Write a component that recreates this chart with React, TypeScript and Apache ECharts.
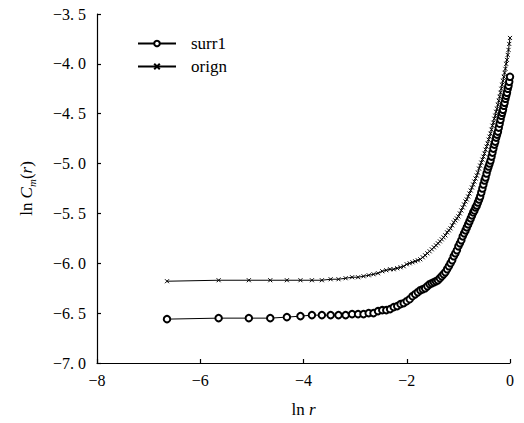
import React, { useEffect, useRef } from "react";
import * as echarts from "echarts";

// ln r values (x axis)
const lnR: number[] = [
  -6.644, -5.644, -5.059, -4.644, -4.322, -4.059, -3.837, -3.644, -3.474, -3.322,
  -3.184, -3.059, -2.943, -2.837, -2.737, -2.644, -2.556, -2.474, -2.396, -2.322,
  -2.252, -2.184, -2.12, -2.059, -2.0, -1.943, -1.889, -1.837, -1.786, -1.737,
  -1.69, -1.644, -1.6, -1.556, -1.515, -1.474, -1.434, -1.396, -1.358, -1.322,
  -1.286, -1.252, -1.218, -1.184, -1.152, -1.12, -1.089, -1.059, -1.029, -1.0,
  -0.971, -0.943, -0.916, -0.889, -0.862, -0.837, -0.811, -0.786, -0.761, -0.737,
  -0.713, -0.69, -0.667, -0.644, -0.622, -0.599, -0.578, -0.556, -0.535, -0.515,
  -0.494, -0.474, -0.454, -0.434, -0.415, -0.396, -0.377, -0.358, -0.34, -0.322,
  -0.304, -0.286, -0.269, -0.252, -0.234, -0.218, -0.201, -0.184, -0.168, -0.152,
  -0.136, -0.12, -0.105, -0.089, -0.074, -0.059, -0.044, -0.029, -0.015, 0,
];

// ln Cm(r) for the surrogate series
const surr1: number[] = [
  -6.56, -6.55, -6.55, -6.55, -6.54, -6.53, -6.52, -6.52, -6.52, -6.52,
  -6.52, -6.51, -6.51, -6.51, -6.5, -6.5, -6.48, -6.47, -6.47, -6.46,
  -6.44, -6.43, -6.41, -6.4, -6.38, -6.36, -6.33, -6.31, -6.29, -6.27,
  -6.26, -6.25, -6.23, -6.21, -6.2, -6.19, -6.18, -6.17, -6.15, -6.13,
  -6.11, -6.09, -6.06, -6.03, -6.0, -5.97, -5.93, -5.9, -5.87, -5.83,
  -5.8, -5.77, -5.73, -5.7, -5.67, -5.64, -5.61, -5.58, -5.55, -5.52,
  -5.49, -5.47, -5.44, -5.42, -5.39, -5.36, -5.33, -5.29, -5.25, -5.21,
  -5.17, -5.14, -5.1, -5.06, -5.03, -5.0, -4.97, -4.93, -4.89, -4.85,
  -4.81, -4.78, -4.74, -4.71, -4.68, -4.64, -4.6, -4.56, -4.52, -4.49,
  -4.46, -4.42, -4.39, -4.35, -4.32, -4.29, -4.25, -4.22, -4.18, -4.13,
];

// ln Cm(r) for the original series
const orign: number[] = [
  -6.18, -6.17, -6.17, -6.17, -6.17, -6.17, -6.17, -6.17, -6.16, -6.16,
  -6.15, -6.14, -6.14, -6.13, -6.12, -6.11, -6.1, -6.08, -6.07, -6.06,
  -6.06, -6.05, -6.04, -6.03, -6.01, -6.0, -5.99, -5.98, -5.97, -5.96,
  -5.94, -5.92, -5.9, -5.88, -5.86, -5.84, -5.82, -5.8, -5.78, -5.76,
  -5.74, -5.72, -5.69, -5.67, -5.65, -5.62, -5.59, -5.57, -5.55, -5.53,
  -5.5, -5.47, -5.44, -5.41, -5.38, -5.36, -5.33, -5.3, -5.27, -5.24,
  -5.21, -5.18, -5.15, -5.12, -5.09, -5.05, -5.02, -4.99, -4.96, -4.93,
  -4.9, -4.86, -4.83, -4.8, -4.76, -4.73, -4.7, -4.66, -4.62, -4.59,
  -4.55, -4.52, -4.48, -4.45, -4.41, -4.37, -4.33, -4.29, -4.25, -4.21,
  -4.17, -4.13, -4.09, -4.05, -4.0, -3.96, -3.91, -3.86, -3.8, -3.74,
];

const seriesNames = ["surr1", "orign"];

const FONT = "Liberation Serif, DejaVu Serif, serif";

function fmtY(v: number): string {
  const s = Math.abs(v).toFixed(1).replace(".", ".\u00a0");
  return (v < 0 ? "\u2212" : "") + s;
}
function fmtX(v: number): string {
  return (v < 0 ? "\u2212" : "") + String(Math.abs(v));
}

export default function App() {
  const ref = useRef<HTMLDivElement>(null);
  useEffect(() => {
    if (!ref.current) return;
    const chart = echarts.init(ref.current, null, { renderer: "svg" });
    const axisCommon = {
      axisLine: { show: true, onZero: false, lineStyle: { color: "#000", width: 1.2 } },
      axisTick: { show: true, inside: true, length: 4, lineStyle: { color: "#000", width: 1.2 } },
      splitLine: { show: false },
      axisLabel: { color: "#000", fontFamily: FONT, fontSize: 16 },
    };
    chart.setOption({
      animation: false,
      backgroundColor: "#fff",
      textStyle: { fontFamily: FONT },
      grid: { left: 97, right: 14, top: 14, bottom: 55, containLabel: false },
      legend: {
        orient: "vertical",
        left: 132,
        top: 30,
        itemWidth: 38,
        itemHeight: 7,
        itemGap: 6,
        textStyle: { fontFamily: FONT, fontSize: 17, color: "#000", padding: [0, 0, 0, 10] },
        data: seriesNames,
      },
      xAxis: {
        type: "value",
        min: -8,
        max: 0,
        interval: 2,
        ...axisCommon,
        axisLabel: { ...axisCommon.axisLabel, margin: 9, formatter: fmtX },
        name: "{a|ln }{b|r}",
        nameLocation: "middle",
        nameGap: 38,
        nameTextStyle: {
          color: "#000",
          fontFamily: FONT,
          fontSize: 17,
          rich: {
            a: { fontFamily: FONT, fontSize: 17, color: "#000" },
            b: { fontFamily: FONT, fontSize: 17, color: "#000", fontStyle: "italic" },
          },
        },
      },
      yAxis: {
        type: "value",
        min: -7,
        max: -3.5,
        interval: 0.5,
        ...axisCommon,
        axisLabel: { ...axisCommon.axisLabel, margin: 11, formatter: fmtY },
        name: "{a|ln }{b|C}{c|m}{a|(}{b|r}{a|)}",
        nameLocation: "middle",
        nameGap: 60,
        nameRotate: 90,
        nameTextStyle: {
          color: "#000",
          fontFamily: FONT,
          fontSize: 17,
          rich: {
            a: { fontFamily: FONT, fontSize: 17, color: "#000", lineHeight: 22, verticalAlign: "middle" },
            b: { fontFamily: FONT, fontSize: 17, color: "#000", fontStyle: "italic", lineHeight: 22, verticalAlign: "middle" },
            c: { fontFamily: FONT, fontSize: 11, color: "#000", fontStyle: "italic", lineHeight: 11, verticalAlign: "bottom" },
          },
        },
      },
      series: [
        {
          name: seriesNames[0],
          type: "line",
          data: lnR.map((x, i) => [x, surr1[i]]),
          symbol: "emptyCircle",
          symbolSize: 6.5,
          showSymbol: true,
          lineStyle: { color: "#000", width: 1 },
          itemStyle: { color: "#000", borderColor: "#000", borderWidth: 1 },
          z: 2,
        },
        {
          name: seriesNames[1],
          type: "line",
          data: lnR.map((x, i) => [x, orign[i]]),
          symbol: "path://M0,0L10,10M0,10L10,0",
          symbolSize: 4,
          showSymbol: true,
          lineStyle: { color: "#000", width: 1 },
          itemStyle: { color: "#000", borderColor: "#000", borderWidth: 1 },
          z: 3,
        },
      ],
    });
    return () => chart.dispose();
  }, []);
  return <div ref={ref} style={{ width: 524, height: 423, position: "absolute", left: 0, top: 0 }} />;
}
